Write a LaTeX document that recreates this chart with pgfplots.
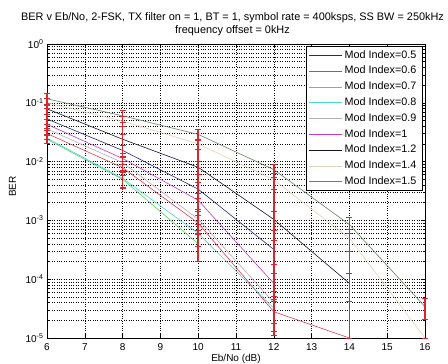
\documentclass[border=0pt]{standalone}
\usepackage{fontspec}
\setmainfont{Liberation Sans}
\usepackage{pgfplots}
\pgfplotsset{compat=1.18}
\definecolor{c05}{RGB}{40,40,110}
\definecolor{c06}{RGB}{225,60,80}
\definecolor{c07}{RGB}{90,210,90}
\definecolor{c08}{RGB}{70,215,220}
\definecolor{c09}{RGB}{190,170,180}
\definecolor{c10}{RGB}{190,60,200}
\definecolor{c12}{RGB}{20,20,40}
\definecolor{c14}{RGB}{225,210,185}
\definecolor{c15}{RGB}{100,130,100}
\definecolor{ebar}{RGB}{215,40,50}
\pgfplotsset{eb/.style={ebar, line width=1.8pt, mark=-, mark size=3pt, mark options={solid, ebar, line width=0.8pt}, forget plot}}
\begin{document}
\begin{tikzpicture}
\begin{axis}[
  name=ax, at={(0,0)}, anchor=south west,
  scale only axis, width=378pt, height=294pt,
  clip=false, axis on top=false,
  ymode=log, xmin=6, xmax=16, ymin=1e-5, ymax=1,
  xtick={6,7,...,16},
  ytick={1e-5,1e-4,1e-3,1e-2,1e-1,1},
  yticklabels={10\textsuperscript{-5},10\textsuperscript{-4},10\textsuperscript{-3},10\textsuperscript{-2},10\textsuperscript{-1},10\textsuperscript{0}},
  /pgf/number format/assume math mode=true,
  grid=both,
  major grid style={black, dotted, line width=0.4pt},
  minor grid style={black, dotted, line width=0.4pt},
  tick align=inside, major tick length=4pt, minor tick length=2pt,
  tick style={black, line width=0.4pt},
  axis line style={line width=0.5pt},
  font=\fontsize{10}{12}\selectfont,
  ticklabel style={font=\fontsize{10}{12}\selectfont},
  xticklabel style={yshift=-2pt},
  xlabel={Eb/No (dB)},
  xlabel style={at={(axis description cs:0.5,0)}, anchor=base, yshift=-23pt},
  ylabel={BER},
  ylabel style={at={(axis description cs:-0.0913,0.515)}, anchor=center},
  title={BER v Eb/No, 2-FSK, TX filter on = 1, BT = 1, symbol rate = 400ksps, SS BW = 250kHz\\frequency offset = 0kHz},
  title style={align=center, font=\fontsize{10.9}{13.5}\selectfont, at={(axis description cs:0.5,1)}, anchor=south, inner sep=0pt, yshift=2pt, xshift=-3.5pt},
  every axis plot/.append style={line width=0.6pt},
  legend cell align=left,
  legend image code/.code={\draw[#1] (0pt,0pt) -- (33pt,0pt);},
  legend style={at={(1,1)}, anchor=north east, xshift=-3pt, yshift=-2pt,
    draw=black, line width=0.5pt, fill=white, font=\fontsize{10.8}{12}\selectfont,
    nodes={inner sep=2.3pt, text height=7.5pt, text depth=2pt}, row sep=1.7pt},
]
\addplot[c05] coordinates {(6,0.053) (8,0.0155) (10,0.0034) (12,3.2e-4)};
\addlegendentry{Mod Index=0.5}
\addplot[c06] coordinates {(6,0.030) (8,0.0079) (10,9e-4) (12,2.8e-5) (14,1e-5)};
\addlegendentry{Mod Index=0.6}
\addplot[c07] coordinates {(6,0.024) (8,0.005) (10,4e-4)};
\addlegendentry{Mod Index=0.7}
\addplot[c08] coordinates {(6,0.025) (8,0.0052) (10,6e-4) (12,3.2e-5)};
\addlegendentry{Mod Index=0.8}
\addplot[c09] coordinates {(6,0.036) (8,0.0096) (10,1.05e-3) (12,4e-5)};
\addlegendentry{Mod Index=0.9}
\addplot[c10] coordinates {(6,0.043) (8,0.0113) (10,0.0022) (12,8.5e-5)};
\addlegendentry{Mod Index=1}
\addplot[c12] coordinates {(6,0.079) (8,0.024) (10,0.008) (12,1.04e-3) (14,8.5e-5)};
\addlegendentry{Mod Index=1.2}
\addplot[c14] coordinates {(6,0.10) (8,0.049) (10,0.020) (12,0.0049) (14,5e-4) (16,1e-5)};
\addlegendentry{Mod Index=1.4}
\addplot[c15] coordinates {(6,0.117) (8,0.060) (10,0.029) (12,0.0073) (14,8.5e-4) (16,3.4e-5)};
\addlegendentry{Mod Index=1.5}
% error bars: confidence limits of every series at each Eb/No
\addplot[eb] coordinates {(6,0.0204) (6,0.0205) (6,0.024) (6,0.0276) (6,0.0288) (6,0.0295) (6,0.0344) (6,0.036) (6,0.0424) (6,0.0432) (6,0.0516) (6,0.0632) (6,0.0636) (6,0.08) (6,0.0913) (6,0.0948) (6,0.12) (6,0.1427)};
\addplot[eb] coordinates {(8,0.0035) (8,0.0037) (8,0.0059) (8,0.0065) (8,0.0067) (8,0.0072) (8,0.0088) (8,0.0099) (8,0.012) (8,0.0121) (8,0.0138) (8,0.0189) (8,0.0192) (8,0.0288) (8,0.0392) (8,0.0468) (8,0.0588) (8,0.0732)};
\addplot[eb] coordinates {(10,2e-4) (10,3.6e-4) (10,5.85e-4) (10,6e-4) (10,6.8e-4) (10,8.4e-4) (10,1.215e-3) (10,1.42e-3) (10,1.54e-3) (10,2.4e-3) (10,2.86e-3) (10,4.4e-3) (10,6e-3) (10,0.01) (10,0.016) (10,0.0232) (10,0.024) (10,0.0348)};
\addplot[eb] coordinates {(12,1.12e-5) (12,1.28e-5) (12,1.8e-5) (12,4.25e-5) (12,4.48e-5) (12,5.12e-5) (12,6.2e-5) (12,1.275e-4) (12,1.76e-4) (12,4.64e-4) (12,6.76e-4) (12,1.404e-3) (12,3.43e-3) (12,5.48e-3) (12,6.37e-3) (12,9.13e-3)};
\addplot[eb] coordinates {(14,1e-5) (14,4.25e-5) (14,1.275e-4) (14,3e-4) (14,5.95e-4) (14,7e-4) (14,1.105e-3)};
\addplot[eb] coordinates {(16,2.04e-5) (16,4.76e-5)};
\addplot[eb, only marks] coordinates {(16,1e-5)};
\end{axis}
\pgfresetboundingbox
\useasboundingbox (-47pt,-26pt) rectangle (401pt,338pt);
\end{tikzpicture}
\end{document}
